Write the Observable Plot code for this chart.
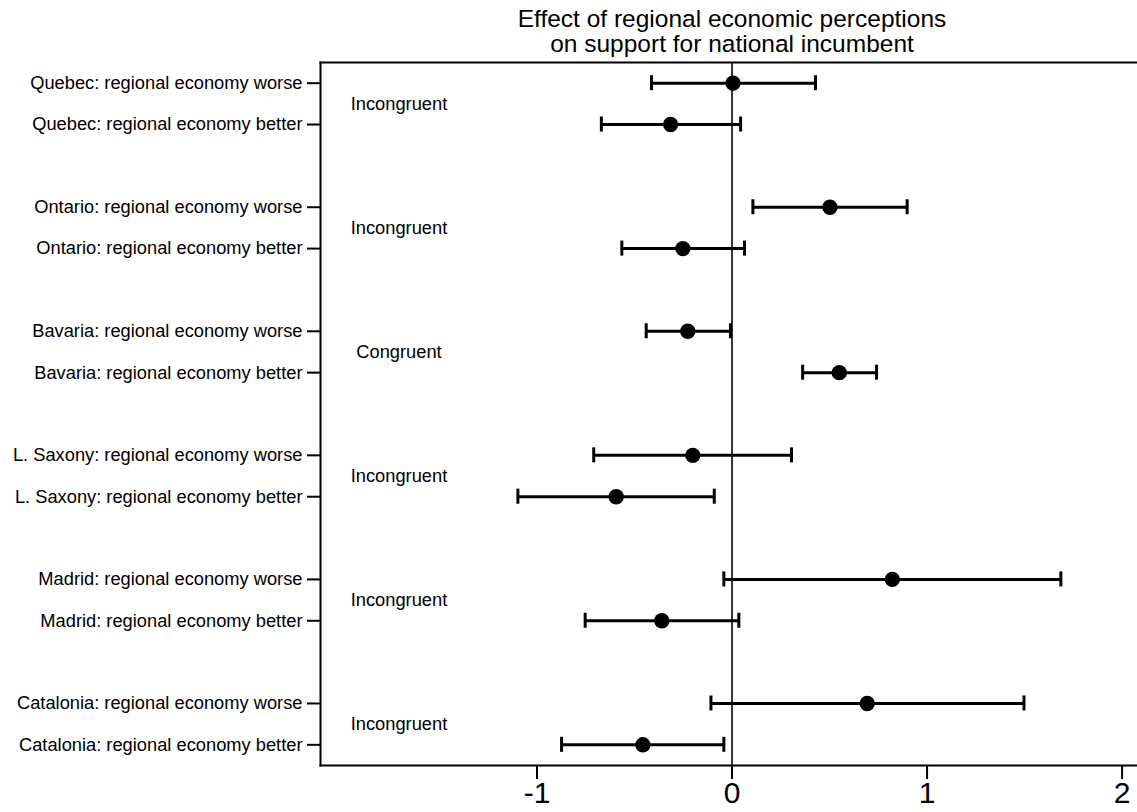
<!DOCTYPE html>
<html>
<head>
<meta charset="utf-8">
<script src="https://cdn.jsdelivr.net/npm/d3@7"></script>
<script src="https://cdn.jsdelivr.net/npm/@observablehq/plot@0.6"></script>
<style>
  html, body { margin: 0; padding: 0; background: #fff; }
  body { width: 1137px; height: 812px; overflow: hidden; font-family: "Liberation Sans", Arial, sans-serif; }
  #title { box-sizing: border-box; height: 56px; padding-top: 6px; padding-left: 327px; text-align: center;
           font-size: 24.5px; line-height: 25px; color: #000; }
  #chart svg { display: block; }
</style>
</head>
<body>
<div id="title">Effect of regional economic perceptions<br>on support for national incumbent</div>
<div id="chart"></div>
<script>
// ---- data ----
const regions = ["Quebec", "Ontario", "Bavaria", "L. Saxony", "Madrid", "Catalonia"];
const groupLabels = ["Incongruent", "Incongruent", "Congruent", "Incongruent", "Incongruent", "Incongruent"];

const worseEst  = [0.005, 0.502, -0.227, -0.201, 0.822, 0.693];
const worseLow  = [-0.413, 0.107, -0.440, -0.709, -0.042, -0.108];
const worseHigh = [0.428, 0.898, -0.008, 0.305, 1.686, 1.497];

const betterEst  = [-0.315, -0.252, 0.550, -0.594, -0.360, -0.457];
const betterLow  = [-0.670, -0.565, 0.362, -1.098, -0.753, -0.874];
const betterHigh = [0.044, 0.064, 0.741, -0.091, 0.035, -0.042];

const xTicks = [-1, 0, 1, 2];

// ---- build rows ----
const rows = [];
regions.forEach((r, i) => {
  rows.push({pos: 3 * i,     label: `${r}: regional economy worse`,  est: worseEst[i],  low: worseLow[i],  high: worseHigh[i]});
  rows.push({pos: 3 * i + 1, label: `${r}: regional economy better`, est: betterEst[i], low: betterLow[i], high: betterHigh[i]});
});
const groups = regions.map((r, i) => ({pos: 3 * i + 0.5, text: groupLabels[i]}));
const labelByPos = new Map(rows.map(d => [d.pos, d.label]));

const chart = Plot.plot({
  width: 1137,
  height: 756,
  marginTop: 6,
  marginBottom: 47,
  marginLeft: 320,
  marginRight: 0,
  style: {fontFamily: "'Liberation Sans', Arial, sans-serif", color: "#000", background: "#fff"},
  x: {domain: [-2.11, 2.079]},
  y: {domain: [-0.5, 16.5], reverse: true},
  marks: [
    Plot.ruleX([0], {stroke: "#333", strokeWidth: 2}),
    Plot.ruleY(rows, {y: "pos", x1: "low", x2: "high", stroke: "#000", strokeWidth: 3}),
    Plot.ruleX(rows, {x: "low", y1: "pos", y2: "pos", insetTop: -7.5, insetBottom: -7.5, stroke: "#000", strokeWidth: 3}),
    Plot.ruleX(rows, {x: "high", y1: "pos", y2: "pos", insetTop: -7.5, insetBottom: -7.5, stroke: "#000", strokeWidth: 3}),
    Plot.dot(rows, {x: "est", y: "pos", r: 7.7, fill: "#000", stroke: "none"}),
    Plot.text(groups, {y: "pos", frameAnchor: "left", dx: 78.5, text: "text", textAnchor: "middle", fontSize: 18.3, fill: "#000"}),
    Plot.axisY({ticks: rows.map(d => d.pos), tickFormat: p => labelByPos.get(p), tickSize: 13, tickPadding: 5,
                fontSize: 18.3, strokeWidth: 2, label: null}),
    Plot.axisX({ticks: xTicks, tickFormat: d => d < 0 ? "-" + Math.abs(d) : String(d), tickSize: 14, tickPadding: 2,
                fontSize: 30, strokeWidth: 2, label: null}),
    Plot.frame({anchor: "left", stroke: "#000", strokeWidth: 2}),
    Plot.frame({anchor: "top", stroke: "#000", strokeWidth: 2}),
    Plot.frame({anchor: "bottom", stroke: "#000", strokeWidth: 2})
  ]
});
document.getElementById("chart").appendChild(chart);
</script>
</body>
</html>
